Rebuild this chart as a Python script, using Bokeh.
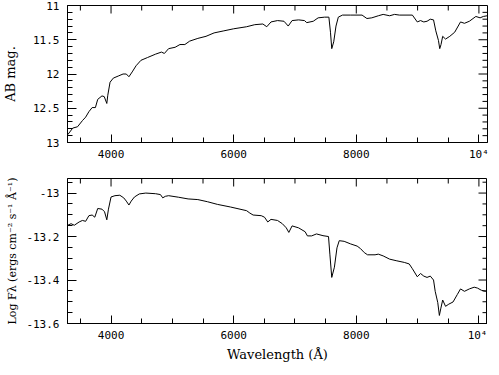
from bokeh.plotting import figure
from bokeh.layouts import column
from bokeh.models import Range1d, LinearAxis, FixedTicker, CustomJSTickFormatter
from bokeh.embed import file_html
from bokeh.resources import INLINE

# ---- data ----
wave_mag = [3295, 3375, 3454, 3534, 3586, 3639, 3692, 3745, 3783, 3852, 3889, 3931,
            3947, 3984, 4037, 4117, 4196, 4249, 4292, 4345, 4408, 4488, 4594, 4727,
            4822, 4870, 4939, 5045, 5124, 5204, 5283, 5416, 5549, 5681, 5840, 6000,
            6211, 6344, 6476, 6540, 6609, 6715, 6821, 6890, 6953, 7059, 7155, 7192,
            7298, 7378, 7484, 7553, 7579, 7600, 7632, 7669, 7707, 7775, 7908, 8094,
            8173, 8253, 8359, 8438, 8544, 8624, 8703, 8915, 8995, 9048, 9101, 9154,
            9207, 9260, 9297, 9340, 9361, 9382, 9409, 9456, 9525, 9605, 9700, 9764,
            9844, 9950, 10019, 10072, 10135]
ab_mag = [12.885, 12.79, 12.77, 12.68, 12.63, 12.55, 12.49, 12.49, 12.37, 12.32, 12.33, 12.43,
          12.31, 12.12, 12.06, 12.03, 12.00, 12.00, 12.04, 11.97, 11.88, 11.80, 11.76, 11.71,
          11.68, 11.70, 11.63, 11.61, 11.57, 11.57, 11.52, 11.48, 11.45, 11.40, 11.37, 11.34,
          11.31, 11.28, 11.27, 11.31, 11.24, 11.22, 11.23, 11.30, 11.22, 11.21, 11.22, 11.25,
          11.23, 11.18, 11.17, 11.17, 11.39, 11.63, 11.53, 11.30, 11.17, 11.14, 11.14, 11.14,
          11.19, 11.18, 11.15, 11.13, 11.15, 11.13, 11.14, 11.14, 11.24, 11.22, 11.24, 11.23,
          11.20, 11.21, 11.37, 11.51, 11.63, 11.57, 11.45, 11.49, 11.45, 11.39, 11.24, 11.26,
          11.23, 11.16, 11.18, 11.16, 11.15]

wave_flux = [3295, 3348, 3401, 3480, 3533, 3586, 3639, 3692, 3735, 3783, 3852, 3894,
             3931, 3958, 4000, 4064, 4143, 4207, 4249, 4292, 4329, 4382, 4461, 4567,
             4727, 4806, 4843, 4886, 4939, 5098, 5257, 5416, 5575, 5734, 5946, 6211,
             6264, 6317, 6450, 6503, 6556, 6609, 6715, 6794, 6858, 6900, 6953, 7059,
             7166, 7203, 7272, 7351, 7457, 7547, 7569, 7600, 7643, 7685, 7722, 7802,
             7908, 8014, 8067, 8131, 8184, 8306, 8359, 8438, 8544, 8650, 8783, 8863,
             8915, 8995, 9048, 9101, 9154, 9207, 9260, 9287, 9329, 9355, 9377, 9409,
             9456, 9509, 9578, 9647, 9700, 9764, 9844, 9923, 9976, 10040, 10109, 10135]
log_flux = [-13.148, -13.141, -13.148, -13.133, -13.126, -13.130, -13.104, -13.101, -13.111,
            -13.071, -13.074, -13.086, -13.123, -13.074, -13.018, -13.012, -13.010, -13.022,
            -13.037, -13.055, -13.037, -13.018, -13.004, -13.000, -13.003, -13.007, -13.022,
            -13.015, -13.012, -13.019, -13.027, -13.030, -13.040, -13.052, -13.064, -13.081,
            -13.092, -13.101, -13.104, -13.111, -13.133, -13.121, -13.126, -13.141, -13.160,
            -13.181, -13.151, -13.160, -13.178, -13.197, -13.197, -13.188, -13.196, -13.200,
            -13.281, -13.388, -13.341, -13.252, -13.219, -13.222, -13.234, -13.244, -13.255,
            -13.274, -13.284, -13.284, -13.281, -13.289, -13.304, -13.311, -13.319, -13.326,
            -13.348, -13.385, -13.370, -13.382, -13.388, -13.382, -13.400, -13.452, -13.504,
            -13.563, -13.533, -13.492, -13.521, -13.511, -13.501, -13.467, -13.441, -13.452,
            -13.441, -13.433, -13.437, -13.447, -13.452, -13.444]

# ---- axes / ticks ----
x_start, x_end = 3290, 10140
mag_start, mag_end = 13, 11
flux_start, flux_end = -13.6, -12.933

x_major = [4000, 6000, 8000, 10000]
x_minor = [3500, 4500, 5000, 5500, 6500, 7000, 7500, 8500, 9000, 9500]
mag_major = [11, 11.5, 12, 12.5, 13]
mag_minor = [11.1, 11.2, 11.3, 11.4, 11.6, 11.7, 11.8, 11.9,
             12.1, 12.2, 12.3, 12.4, 12.6, 12.7, 12.8, 12.9]
flux_major = [-13.6, -13.4, -13.2, -13.0]
flux_minor = [-13.55, -13.5, -13.45, -13.35, -13.3, -13.25, -13.15, -13.1, -13.05, -12.95]

TICK_FONT = "DejaVu Sans Mono"
TITLE_FONT = "DejaVu Serif"

FRAME_W = 420
X_MAJOR_LEN, X_MINOR_LEN = 8, 5   # px
Y_MAJOR_LEN, Y_MINOR_LEN = 9, 5   # px

x_fmt = CustomJSTickFormatter(code="""
if (Math.abs(tick - 10000) < 1) { return "10\u2074"; }
return String(Math.round(tick));
""")
y_fmt = CustomJSTickFormatter(code="return String(Math.round(tick*100)/100);")


def style_axis(ax, major_len, minor_len):
    ax.major_tick_in = major_len
    ax.major_tick_out = 0
    ax.minor_tick_in = minor_len
    ax.minor_tick_out = 0
    ax.major_tick_line_color = "black"
    ax.minor_tick_line_color = "black"
    ax.axis_line_color = "black"
    ax.major_label_text_font = TICK_FONT
    ax.major_label_text_font_size = "11px"
    ax.major_label_text_color = "black"
    ax.axis_label_text_font = TITLE_FONT
    ax.axis_label_text_font_size = "13px"
    ax.axis_label_text_font_style = "normal"
    ax.axis_label_text_color = "black"


def make_fig(frame_h, y0, y1, y_major, y_minor, mb_top, mb_bottom, xlabel, ylabel,
             ylabel_standoff, ylabel_size):
    p = figure(frame_width=FRAME_W, frame_height=frame_h,
               output_backend="svg", toolbar_location=None,
               x_range=Range1d(x_start, x_end), y_range=Range1d(y0, y1),
               x_axis_type=None, y_axis_type=None,
               min_border_left=60, min_border_right=3,
               min_border_top=mb_top, min_border_bottom=mb_bottom)
    p.outline_line_color = "black"
    p.outline_line_width = 1
    p.background_fill_color = "white"
    p.border_fill_color = "white"

    xb = LinearAxis(ticker=FixedTicker(ticks=x_major, minor_ticks=x_minor),
                    formatter=x_fmt, axis_label=xlabel)
    style_axis(xb, X_MAJOR_LEN, X_MINOR_LEN)
    xb.major_label_standoff = 5
    xb.axis_label_standoff = 2
    p.add_layout(xb, "below")

    yl = LinearAxis(ticker=FixedTicker(ticks=y_major, minor_ticks=y_minor),
                    formatter=y_fmt, axis_label=ylabel)
    style_axis(yl, Y_MAJOR_LEN, Y_MINOR_LEN)
    yl.major_label_standoff = 8
    yl.axis_label_standoff = ylabel_standoff
    yl.axis_label_text_font_size = ylabel_size
    p.add_layout(yl, "left")

    # mirrored inward ticks on the top and right edges (px lengths -> data units)
    dx_per_px = (x_end - x_start) / FRAME_W
    dy_per_px = (y1 - y0) / frame_h
    for ticks, L in ((x_major, X_MAJOR_LEN), (x_minor, X_MINOR_LEN)):
        n = len(ticks)
        p.segment(x0=ticks, y0=[y1] * n, x1=ticks, y1=[y1 - L * dy_per_px] * n,
                  line_color="black", line_width=1)
    for ticks, L in ((y_major, Y_MAJOR_LEN), (y_minor, Y_MINOR_LEN)):
        n = len(ticks)
        p.segment(x0=[x_end] * n, y0=ticks, x1=[x_end - L * dx_per_px] * n, y1=ticks,
                  line_color="black", line_width=1)
    return p


p1 = make_fig(137, mag_start, mag_end, mag_major, mag_minor, 5, 28, None, "AB mag.",
              12, "13px")
p1.line(wave_mag, ab_mag, line_color="black", line_width=1)

p2 = make_fig(145, flux_start, flux_end, flux_major, flux_minor, 8, 36,
              "Wavelength (\u00c5)",
              "Log F\u03bb (ergs cm\u207b\u00b2 s\u207b\u00b9 \u00c5\u207b\u00b9)", 4, "11px")
p2.line(wave_flux, log_flux, line_color="black", line_width=1)

layout = column(p1, p2, spacing=0)
open("out.html", "w").write(file_html(layout, INLINE))
